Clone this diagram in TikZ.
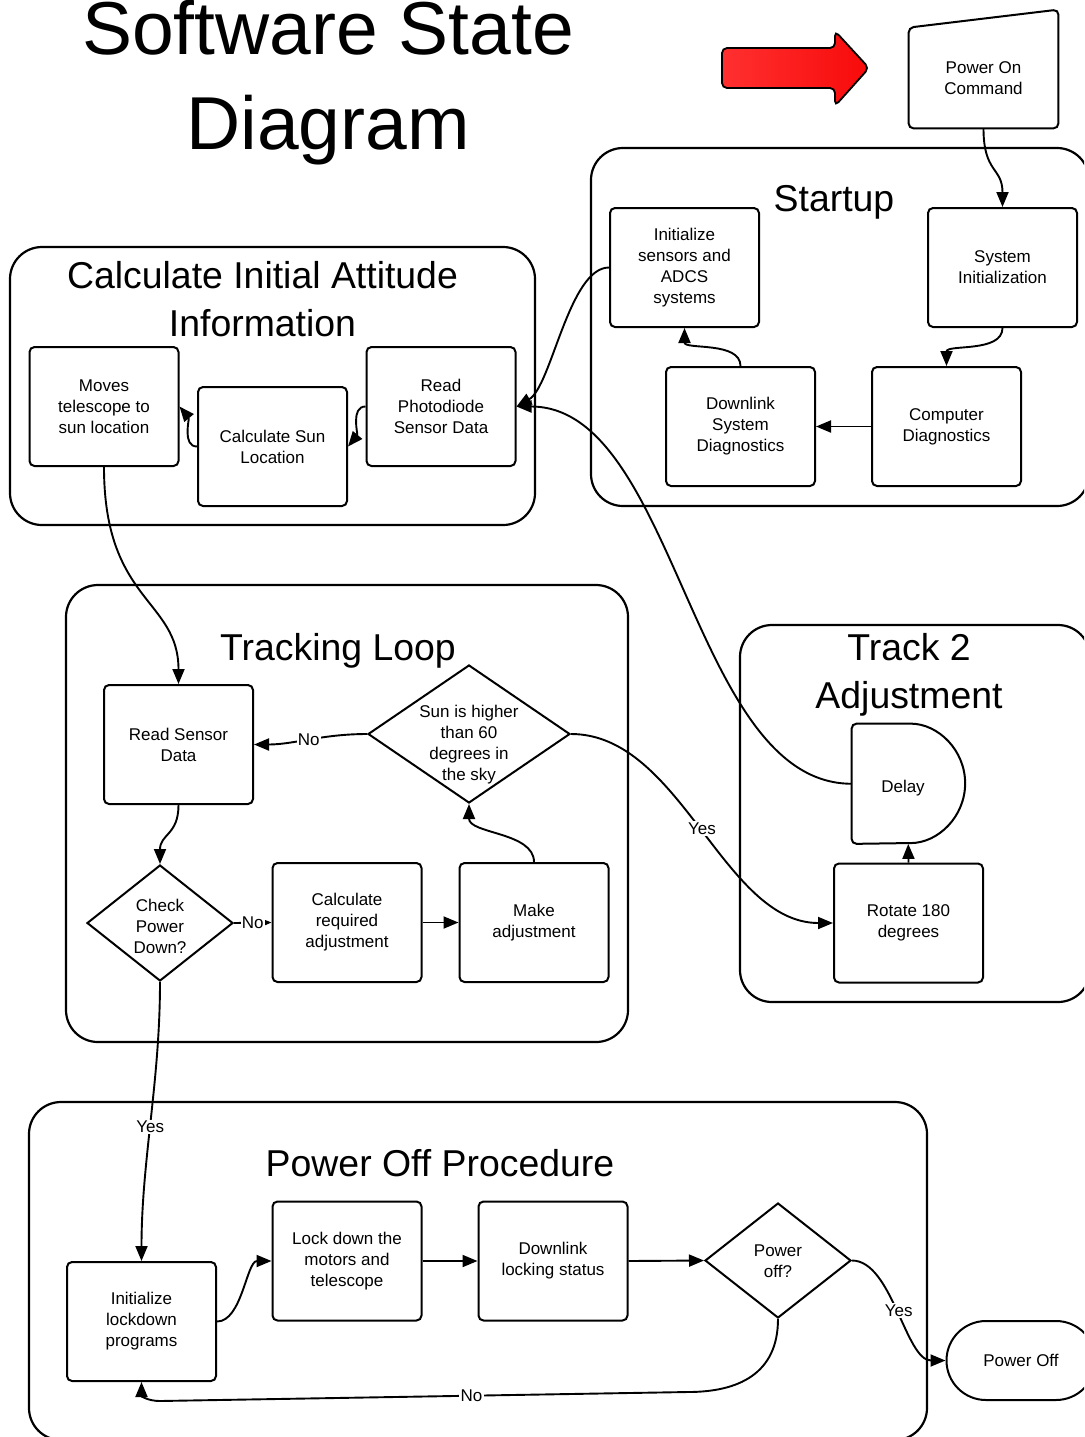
\documentclass[tikz,border=0pt]{standalone}
\usepackage{fontspec}
\setmainfont{Liberation Sans}
\usetikzlibrary{arrows.meta,shapes.geometric,calc}
\newcommand\myboxfont{\fontsize{8.5}{10.5}\selectfont}
\newcommand\mysectfont{\fontsize{18.7}{24.25}\selectfont}
\newcommand\mytitlefont{\fontsize{37.5}{47.5}\selectfont}
\newcommand\dtext[2][-3pt]{\smash{\makebox[0pt]{\raisebox{#1}{\begin{tabular}{@{}c@{}}#2\end{tabular}}}}}
\definecolor{arrowlight}{RGB}{255,48,48}
\definecolor{arrowdeep}{RGB}{248,10,10}
\tikzset{
  box/.style={draw, line width=1pt, rounded corners=2.5pt, minimum width=74.5pt, minimum height=59.5pt, inner sep=0pt, align=center, font=\myboxfont},
  plain/.style={inner sep=0pt, align=center, font=\myboxfont},
  decision/.style={draw, diamond, line width=1pt, inner sep=0pt, aspect=1, font=\myboxfont},
  frame/.style={draw, line width=1.1pt, rounded corners=16pt},
  conn/.style={line width=0.95pt, -{Triangle[length=7.5pt,width=6pt]}},
  lbl/.style={fill=white, inner sep=0.6pt, font=\myboxfont},
  sectitle/.style={font=\mysectfont, align=center, inner sep=0pt},
  bigtitle/.style={font=\mytitlefont, align=center, inner sep=0pt},
}
\begin{document}
\begin{tikzpicture}[x=0.5pt,y=-0.5pt]
\useasboundingbox (0,0) rectangle (1084,1437);
\clip (0,0) rectangle (1084,1437);
\fill[white] (0,0) rectangle (1084,1437);

% containers
\draw[frame] (591,148) rectangle (1089,506);
\draw[frame] (10,247) rectangle (535,525);
\draw[frame] (66,585) rectangle (628,1042);
\draw[frame] (740,625) rectangle (1090,1002);
\draw[frame] (29,1102) rectangle (927,1440);

% titles
\node[bigtitle] (title) at (328,83) {Software State\\Diagram};
\node[sectitle, anchor=base] (tstart) at (834,211) {Startup};
\node[sectitle] (tcalc) at (262.5,299) {Calculate Initial Attitude\\Information};
\node[sectitle, anchor=base] (ttrack) at (338,660) {Tracking Loop};
\node[sectitle] (ttrack2) at (909,675) {Track 2\\Adjustment};
\node[sectitle, anchor=base] (tpoff) at (440,1176) {Power Off Procedure};

% red arrow
\draw[line width=0.9pt, rounded corners=2.5pt, left color=arrowlight, right color=arrowdeep]
  (722,48) -- (835,48) -- (835,31) -- (869,68) -- (835,106) -- (835,88) -- (722,88) -- cycle;

% Power On Command (manual input)
\node[plain, minimum width=74.5pt, minimum height=50pt] (pwron) at (983.5,78) {Power On\\Command};
\draw[line width=1pt, rounded corners=2.5pt] (pwron.south west) -- (pwron.north west)
  -- ($(pwron.north east)+(0,-18)$) -- (pwron.south east) -- cycle;

% Startup
\node[box] (sysinit) at (1002.5,267.5) {System\\Initialization};
\node[box] (initsens) at (684.5,267.5) {Initialize\\sensors and\\ADCS\\systems};
\node[box] (downdiag) at (740.5,426.5) {Downlink\\System\\Diagnostics};
\node[box] (compdiag) at (946.5,426.5) {Computer\\Diagnostics};

% Calculate initial attitude
\node[box] (moves) at (104,406.5) {Moves\\telescope to\\sun location};
\node[box] (calcsun) at (272.5,446.5) {Calculate Sun\\Location};
\node[box] (readphoto) at (441,406.5) {Read\\Photodiode\\Sensor Data};

% Tracking loop
\node[box] (readsens) at (178.5,744.5) {Read Sensor\\Data};
\node[decision, minimum width=101pt, minimum height=69pt] (sun) at (469,734)
  {\dtext[-7.5pt]{Sun is higher\\than 60\\degrees in\\the sky}};
\node[decision, minimum width=73pt, minimum height=58pt] (checkpw) at (160,923)
  {\dtext[-4.75pt]{Check\\Power\\Down?}};
\node[box] (calcreq) at (347,922.5) {Calculate\\required\\adjustment};
\node[box] (makeadj) at (534,922.5) {Make\\adjustment};

% Track 2 adjustment
\node[minimum width=56.25pt, minimum height=59.75pt, inner sep=0pt] (delay) at (908.25,783.75) {};
\draw[line width=1pt, rounded corners=2.5pt] (delay.south west) -- (delay.north west)
  -- ($(delay.north east)+(-59.5,0)$) arc[start angle=-90, end angle=90, radius=59.75]
  -- cycle;
\node[plain] (delaytext) at (903,788) {Delay};
\node[box] (rot) at (908.5,923) {Rotate 180\\degrees};

% Power off procedure
\node[box] (initlock) at (141.5,1321.5) {Initialize\\lockdown\\programs};
\node[box] (lockdown) at (347,1261) {Lock down the\\motors and\\telescope};
\node[box] (downlock) at (553,1261) {Downlink\\locking status};
\node[decision, minimum width=73pt, minimum height=57.5pt] (pq) at (778,1260.5)
  {\dtext{Power\\off?}};
\node[draw, line width=1pt, rounded corners=19.75pt, minimum width=74.5pt, minimum height=39.5pt,
  inner sep=0pt, font=\myboxfont] (poff) at (1021,1360.5) {Power Off};

\coordinate (nob1) at (688,1392);
\coordinate (nob2) at (160,1401);

% connectors
\draw[conn] (pwron.south) .. controls +(0,45) and +(0,-40) .. (sysinit.north);
\draw[conn] (sysinit.south) .. controls +(0,25) and +(0,-22) .. (compdiag.north);
\draw[conn] (compdiag.west) -- (downdiag.east);
\draw[conn] (downdiag.north) .. controls +(0,-25) and +(0,22) .. (initsens.south);
\draw[conn] (initsens.west) .. controls +(-40,0) and +(35,-20) .. (readphoto.east);
\draw[conn] (readphoto.west) .. controls +(-15,0) and +(10,-12) .. (calcsun.east);
\draw[conn] (calcsun.west) .. controls +(-15,0) and +(10,12) .. (moves.east);
\draw[conn] (moves.south) .. controls +(0,135) and +(0,-85) .. (readsens.north);
\draw[conn] (readsens.south) .. controls +(0,30) and +(0,-30) .. (checkpw.north);
\draw[conn] (checkpw.east) -- node[lbl] {No} (calcreq.west);
\draw[conn] (calcreq.east) -- (makeadj.west);
\draw[conn] (makeadj.north) .. controls +(0,-30) and +(0,30) .. (sun.south);
\draw[conn] (sun.west) .. controls +(-45,0) and +(40,0) .. node[lbl] {No} (readsens.east);
\draw[conn] (sun.east) .. controls +(110,0) and +(-110,0) .. node[lbl] {Yes} (rot.west);
\draw[conn] (rot.north) -- (delay.south);
\draw[conn] (delay.west) .. controls +(-160,0) and +(160,0) .. (readphoto.east);
\draw[conn] (checkpw.south) .. controls +(0,100) and +(0,-100) .. node[lbl, pos=0.52] {Yes} (initlock.north);
\draw[conn] (initlock.east) .. controls +(25,0) and +(-25,0) .. (lockdown.west);
\draw[conn] (lockdown.east) -- (downlock.west);
\draw[conn] (downlock.east) -- (pq.west);
\draw[conn] (pq.east) .. controls +(40,0) and +(-40,0) .. node[lbl] {Yes} (poff.west);
\draw[conn] (pq.south) .. controls +(0,55) and +(50,0) .. (nob1)
  -- node[lbl, pos=0.41] {No} (nob2) .. controls +(-12,0) and +(0,14) .. (initlock.south);
\end{tikzpicture}
\end{document}
